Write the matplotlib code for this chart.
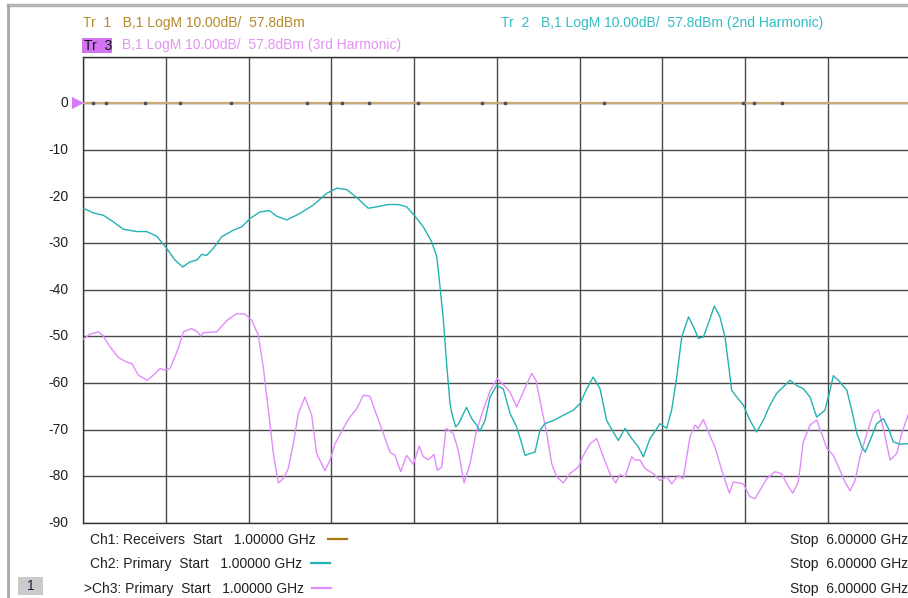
import matplotlib
matplotlib.use("Agg")
import matplotlib.pyplot as plt
from matplotlib.patches import Rectangle
from matplotlib.lines import Line2D

plt.rcParams['font.family'] = ['Liberation Sans', 'DejaVu Sans']

# ---------------- data ----------------
f_start, f_stop = 1.0, 6.0
y_ticks = [0, -10, -20, -30, -40, -50, -60, -70, -80, -90]

tr1_freq = [1.0, 6.0]
tr1_db = [0.0, 0.0]
tr1_dot_freq = [1.056, 1.137, 1.373, 1.585, 1.893, 2.351, 2.492, 2.562, 2.729, 3.026,
                3.409, 3.550, 4.148, 4.987, 5.057, 5.226]

tr2_freq = [1.000, 1.060, 1.121, 1.181, 1.242, 1.323, 1.383, 1.444, 1.504, 1.554,
            1.601, 1.645, 1.686, 1.716, 1.746, 1.786, 1.837, 1.907, 1.958, 2.008,
            2.068, 2.125, 2.169, 2.230, 2.310, 2.391, 2.472, 2.532, 2.593, 2.653,
            2.723, 2.774, 2.844, 2.904, 2.955, 3.005, 3.056, 3.106, 3.137, 3.157,
            3.177, 3.197, 3.217, 3.228, 3.252, 3.272, 3.293, 3.317, 3.348, 3.378,
            3.398, 3.429, 3.459, 3.499, 3.539, 3.580, 3.620, 3.651, 3.671, 3.701,
            3.731, 3.761, 3.791, 3.842, 3.902, 3.963, 4.003, 4.044, 4.083, 4.124,
            4.164, 4.204, 4.235, 4.275, 4.316, 4.356, 4.386, 4.426, 4.487, 4.527,
            4.557, 4.588, 4.618, 4.659, 4.689, 4.719, 4.749, 4.779, 4.815, 4.849,
            4.880, 4.920, 4.951, 4.990, 5.031, 5.071, 5.111, 5.152, 5.192, 5.232,
            5.273, 5.313, 5.353, 5.394, 5.434, 5.484, 5.515, 5.535, 5.565, 5.616,
            5.646, 5.677, 5.707, 5.727, 5.757, 5.797, 5.837, 5.867, 5.897, 5.938,
            5.986, 6.000]
tr2_db = [-22.5, -23.5, -24.0, -25.4, -27.0, -27.5, -27.5, -28.5, -31.1, -33.6,
          -35.1, -34.0, -33.6, -32.4, -32.6, -31.1, -28.6, -27.2, -26.5, -24.7,
          -23.3, -23.0, -24.2, -25.0, -23.6, -21.8, -19.3, -18.2, -18.5, -20.2,
          -22.5, -22.2, -21.7, -21.7, -22.2, -24.2, -26.5, -29.7, -32.9, -39.4,
          -46.5, -56.0, -64.3, -66.5, -69.4, -68.5, -66.9, -65.2, -67.6, -69.0,
          -70.3, -68.0, -63.0, -60.5, -61.2, -66.5, -69.4, -73.0, -75.5, -75.1,
          -74.8, -70.1, -68.7, -68.0, -66.9, -65.8, -64.4, -61.2, -58.7, -61.2,
          -68.0, -70.5, -72.3, -69.7, -71.9, -73.7, -75.8, -71.9, -68.7, -69.7,
          -65.8, -58.7, -50.1, -45.8, -47.9, -50.4, -50.1, -47.2, -43.5, -45.8,
          -50.1, -61.5, -63.0, -64.7, -68.0, -70.5, -68.0, -64.7, -62.2, -60.8,
          -59.4, -60.5, -61.2, -63.0, -67.3, -65.8, -61.5, -58.4, -59.4, -61.5,
          -65.8, -70.8, -73.7, -74.8, -72.3, -68.7, -67.6, -69.7, -72.6, -73.1,
          -73.0, -73.0]

tr3_freq = [1.000, 1.041, 1.091, 1.121, 1.161, 1.212, 1.262, 1.293, 1.333, 1.387,
            1.423, 1.464, 1.494, 1.524, 1.574, 1.605, 1.655, 1.689, 1.710, 1.726,
            1.807, 1.867, 1.927, 1.978, 2.018, 2.058, 2.088, 2.119, 2.149, 2.179,
            2.209, 2.239, 2.270, 2.300, 2.340, 2.381, 2.411, 2.461, 2.492, 2.522,
            2.572, 2.612, 2.653, 2.693, 2.733, 2.774, 2.814, 2.854, 2.884, 2.919,
            2.955, 2.995, 3.031, 3.056, 3.086, 3.120, 3.140, 3.167, 3.193, 3.237,
            3.267, 3.302, 3.338, 3.378, 3.418, 3.459, 3.503, 3.550, 3.580, 3.620,
            3.660, 3.711, 3.737, 3.761, 3.802, 3.832, 3.862, 3.902, 3.943, 3.993,
            4.023, 4.064, 4.104, 4.144, 4.184, 4.219, 4.245, 4.275, 4.316, 4.336,
            4.366, 4.396, 4.446, 4.487, 4.527, 4.557, 4.597, 4.627, 4.668, 4.698,
            4.718, 4.749, 4.779, 4.819, 4.860, 4.906, 4.930, 4.990, 5.031, 5.061,
            5.091, 5.132, 5.182, 5.222, 5.253, 5.289, 5.323, 5.353, 5.394, 5.434,
            5.464, 5.495, 5.535, 5.575, 5.605, 5.636, 5.666, 5.696, 5.737, 5.777,
            5.807, 5.837, 5.878, 5.918, 5.948, 5.986, 6.000]
tr3_db = [-50.6, -49.5, -49.0, -49.9, -52.2, -54.5, -55.5, -55.8, -58.3, -59.4,
          -58.3, -56.9, -57.2, -56.9, -52.6, -49.0, -48.3, -49.0, -49.9, -49.2,
          -49.0, -46.6, -45.1, -45.2, -46.5, -49.7, -56.5, -65.8, -75.1, -81.4,
          -80.5, -78.3, -73.0, -66.5, -63.0, -66.9, -75.1, -78.8, -76.5, -73.0,
          -69.7, -67.3, -65.5, -62.6, -62.8, -66.9, -70.8, -74.8, -75.5, -79.0,
          -75.5, -77.4, -73.5, -75.8, -76.4, -75.3, -78.7, -78.0, -69.7, -70.8,
          -74.4, -81.4, -77.3, -70.1, -65.8, -61.7, -59.0, -60.7, -61.9, -65.1,
          -61.9, -57.9, -59.4, -63.7, -70.8, -77.3, -80.1, -81.4, -79.4, -78.0,
          -75.5, -73.0, -71.9, -75.8, -79.4, -81.4, -79.6, -80.1, -75.8, -76.5,
          -76.5, -78.3, -79.4, -80.9, -80.1, -81.6, -79.8, -80.5, -71.5, -69.0,
          -69.7, -67.8, -70.5, -73.7, -78.7, -83.6, -81.2, -81.6, -84.4, -84.8,
          -83.0, -80.5, -79.0, -79.4, -81.6, -83.6, -81.2, -72.6, -69.0, -67.9,
          -70.8, -74.0, -75.5, -78.7, -81.2, -83.1, -80.9, -75.8, -70.8, -66.5,
          -65.7, -69.7, -76.5, -75.1, -70.8, -66.9, -66.0]

header_tr1 = "Tr  1   B,1 LogM 10.00dB/  57.8dBm"
header_tr2 = "Tr  2   B,1 LogM 10.00dB/  57.8dBm (2nd Harmonic)"
header_tr3_box = "Tr  3"
header_tr3 = "B,1 LogM 10.00dB/  57.8dBm (3rd Harmonic)"
ch_labels = ["Ch1: Receivers  Start   1.00000 GHz",
             "Ch2: Primary  Start   1.00000 GHz",
             ">Ch3: Primary  Start   1.00000 GHz"]
stop_labels = ["Stop  6.00000 GHz", "Stop  6.00000 GHz", "Stop  6.00000 GHz"]

# ---------------- styles ----------------
c_tr1_text = '#B38A2C'
c_tr1_line = '#C9AA78'
c_tr1_leg = '#A87A10'
c_tr2 = '#22B2B2'
c_tr2_text = '#33BCC4'
c_tr3 = '#E28CFC'
c_tr3_text = '#E293F2'
c_tr3_box = '#D274F2'
grid_c = '#4A4A4A'

W, H = 908, 598
fig = plt.figure(figsize=(W / 100, H / 100), dpi=100)
fig.patch.set_facecolor('white')

def fx(px):
    return px / W

def fy(py):
    return 1 - py / H

# outer frame lines
fig.add_artist(Line2D([fx(8), 1.0], [fy(5), fy(5)], color='#B4B4B4', lw=2.5, transform=fig.transFigure))
fig.add_artist(Line2D([fx(8), fx(8)], [fy(5), 0.0], color='#A8A8A8', lw=2.0, transform=fig.transFigure))

left, right, top, bottom = 83.3, 910.3, 56.7, 523.0
ax = fig.add_axes([fx(left), fy(bottom), fx(right) - fx(left), fy(top) - fy(bottom)])
ax.set_xlim(f_start, f_stop)
ax.set_ylim(-90, 10)
ax.set_xticks([f_start + i * (f_stop - f_start) / 10 for i in range(11)])
ax.set_yticks(list(range(-90, 11, 10)))
ax.grid(True, color=grid_c, lw=1.0)
ax.tick_params(length=0, labelbottom=False, labelleft=False)
for s in ax.spines.values():
    s.set_color('#333333')
    s.set_linewidth(1.0)
ax.set_axisbelow(True)

# y tick labels as text
for v in y_ticks:
    ax.text(-0.018, v, str(v), transform=ax.get_yaxis_transform(), ha='right', va='center',
            fontsize=10, color='#202020')

# traces
ax.plot(tr1_freq, tr1_db, color=c_tr1_line, lw=1.6, zorder=3)
ax.plot(tr1_dot_freq, [0.0] * len(tr1_dot_freq), ls='none', marker='s', ms=1.6,
        color='#505050', zorder=4)
ax.plot(tr2_freq, tr2_db, color=c_tr2, lw=1.0, zorder=5)
ax.plot(tr3_freq, tr3_db, color=c_tr3, lw=1.0, zorder=4)

# reference marker triangle at 0 dB
ax.plot([f_start - 0.035], [0], marker='>', ms=8, color='#DA7AF8', clip_on=False,
        markeredgewidth=0, zorder=6)

# headers
fig.text(fx(83), fy(22.5), header_tr1, color=c_tr1_text, fontsize=10, ha='left', va='center')
fig.text(fx(501), fy(22.5), header_tr2, color=c_tr2_text, fontsize=10, ha='left', va='center')
fig.add_artist(Rectangle((fx(82), fy(53)), fx(112) - fx(82), fy(38) - fy(53),
                         facecolor=c_tr3_box, edgecolor='none', transform=fig.transFigure))
fig.text(fx(84), fy(45.5), header_tr3_box, color='#111111', fontsize=10, ha='left', va='center')
fig.text(fx(122), fy(45.5), header_tr3, color=c_tr3_text, fontsize=10, ha='left', va='center')

# footer channel lines
rows_y = [540, 564, 589]
text_x = [90.5, 90.5, 83.5]
leg_x = [(328, 347), (311, 330), (312, 331)]
leg_c = [c_tr1_leg, c_tr2, c_tr3]
for lab, stop, yy, tx, lx, lc in zip(ch_labels, stop_labels, rows_y, text_x, leg_x, leg_c):
    fig.text(fx(tx), fy(yy), lab, color='#202020', fontsize=10, ha='left', va='center')
    fig.text(fx(908), fy(yy), stop, color='#202020', fontsize=10, ha='right', va='center')
    fig.add_artist(Line2D([fx(lx[0]), fx(lx[1])], [fy(yy - 1.5), fy(yy - 1.5)], color=lc, lw=1.6,
                          transform=fig.transFigure))

# channel number box
fig.add_artist(Rectangle((fx(18), fy(595)), fx(43) - fx(18), fy(577) - fy(595),
                         facecolor='#CACACA', edgecolor='none', transform=fig.transFigure))
fig.text(fx(30.5), fy(586), "1", color='#202040', fontsize=10, ha='center', va='center')

fig.savefig('out.png', dpi=100, facecolor='white')
